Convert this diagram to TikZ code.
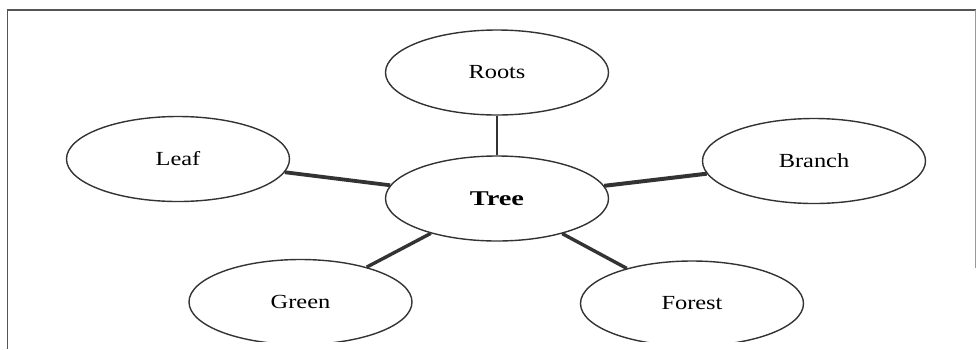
\documentclass[tikz,border=0pt]{standalone}
\usepackage{fontspec}
\usepackage{graphicx}
\setmainfont{Liberation Serif}
\usetikzlibrary{shapes.geometric}
\definecolor{ink}{HTML}{333333}
\definecolor{frameink}{HTML}{555555}
\tikzset{
  bubble/.style={ellipse, draw=ink, line width=1.4pt, inner sep=0pt,
    minimum width=223pt, minimum height=85pt,
    font=\fontsize{20}{24}\selectfont},
  link/.style={draw=ink, line width=3.4pt},
  frameline/.style={draw=frameink, line width=1.6pt}
}
\newcommand{\wide}[1]{\scalebox{1.22}[1]{#1}}
\begin{document}
\begin{tikzpicture}[x=1pt,y=-1pt]
\useasboundingbox (0,0) rectangle (977,349);
% frame
\coordinate (fbl) at (7.5,349);
\coordinate (ftl) at (7.5,10);
\coordinate (ftr) at (975.5,10);
\coordinate (fbr) at (975.5,268);
\draw[frameline] (fbl) -- (ftl) -- (ftr);
\draw[draw=frameink!60, line width=1pt] (ftr) -- (fbr);
\begin{scope}
\clip (0,0) rectangle (977,341);
\node[bubble] (roots)  at (497,72.5) {\wide{Roots}};
\node[bubble] (leaf)   at (178,159)  {\wide{Leaf}};
\node[bubble] (branch) at (814,161)  {\wide{Branch}};
\node[bubble] (tree)   at (497,198.5) {\fontsize{21}{24}\selectfont\bfseries\scalebox{1.35}[1]{Tree}};
\node[bubble] (green)  at (300.5,302) {\wide{Green}};
\node[bubble] (forest) at (692,303.5) {\wide{Forest}};
\end{scope}
\draw[link, line width=2.6pt] (roots) -- (tree);
\draw[link, line width=3.8pt] (tree) -- (leaf);
\draw[link, line width=4pt] (tree) -- (branch);
\draw[link] (tree) -- (green);
\draw[link] (tree) -- (forest);
\end{tikzpicture}
\end{document}
